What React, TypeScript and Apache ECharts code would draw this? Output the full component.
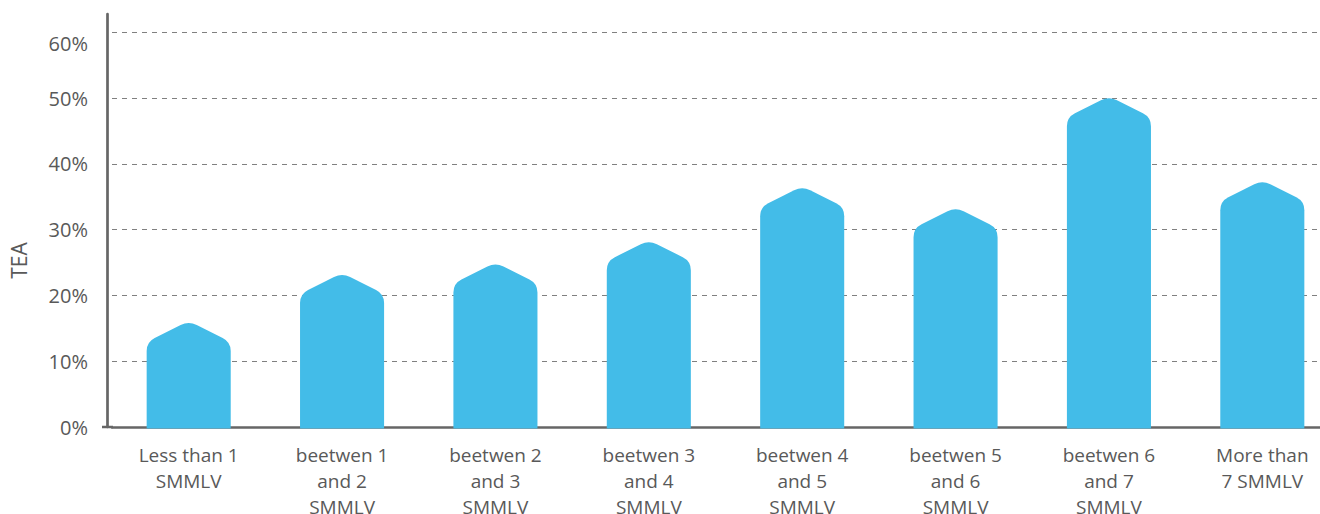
import React, { useEffect, useRef } from "react";
import * as echarts from "echarts";

const categories = [
  "Less than 1\nSMMLV",
  "beetwen 1\nand 2\nSMMLV",
  "beetwen 2\nand 3\nSMMLV",
  "beetwen 3\nand 4\nSMMLV",
  "beetwen 4\nand 5\nSMMLV",
  "beetwen 5\nand 6\nSMMLV",
  "beetwen 6\nand 7\nSMMLV",
  "More than\n7 SMMLV",
];

// TEA (%) per income bracket
const teaValues = [15.8, 23.1, 24.7, 28.1, 36.3, 33.1, 50.0, 37.2];

const BAR_COLOR = "#43BCE8";
const TEXT_COLOR = "#595959";
const FONT = "'Open Sans', 'Noto Sans', sans-serif";

// House-shaped bar: square base, pitched roof with rounded corners.
// The rounded apex passes exactly through yTop.
function housePath(x0: number, x1: number, yTop: number, yBase: number, roof: number, r: number) {
  const cx = (x0 + x1) / 2;
  const half = (x1 - x0) / 2;
  const len = Math.sqrt(half * half + roof * roof);
  const ux = half / len;
  const uy = roof / len;
  const yA = yTop - (r * uy) / 2; // sharp apex, above the rounded curve
  const ys = yA + roof;
  const p: string[] = [];
  p.push(`M${x0},${yBase}`);
  p.push(`L${x0},${ys + r}`);
  p.push(`Q${x0},${ys} ${x0 + r * ux},${ys - r * uy}`);
  p.push(`L${cx - r * ux},${yA + r * uy}`);
  p.push(`Q${cx},${yA} ${cx + r * ux},${yA + r * uy}`);
  p.push(`L${x1 - r * ux},${ys - r * uy}`);
  p.push(`Q${x1},${ys} ${x1},${ys + r}`);
  p.push(`L${x1},${yBase}`);
  p.push("Z");
  return p.join(" ");
}

export default function App() {
  const ref = useRef<HTMLDivElement>(null);

  useEffect(() => {
    if (!ref.current) return;
    const chart = echarts.init(ref.current, undefined, { renderer: "svg" });
    const gridLeft = 112;
    const gridTop = 14;
    const gridBottom = 87;

    chart.setOption({
      animation: false,
      backgroundColor: "#ffffff",
      grid: {
        left: gridLeft,
        width: 1227,
        top: gridTop,
        bottom: gridBottom,
        containLabel: false,
        outerBoundsMode: "none",
      },
      xAxis: {
        type: "category",
        data: categories,
        axisLine: { show: true, lineStyle: { color: "#666666", width: 2.5 } },
        axisTick: { show: false },
        axisLabel: {
          interval: 0,
          color: TEXT_COLOR,
          fontFamily: FONT,
          fontSize: 19,
          lineHeight: 26,
          margin: 15,
        },
      },
      yAxis: {
        type: "value",
        min: 0,
        max: 62.8,
        interval: 10,
        offset: 5,
        name: "TEA",
        nameLocation: "middle",
        nameRotate: 90,
        nameGap: 78,
        nameTextStyle: {
          color: TEXT_COLOR,
          fontFamily: FONT,
          fontSize: 21,
          padding: [0, 80, 0, 0],
        },
        axisLine: { show: true, lineStyle: { color: "#666666", width: 2.7 } },
        axisTick: { show: false },
        splitLine: {
          show: true,
          showMaxLine: false,
          lineStyle: { color: "#808080", width: 1.2, type: [5, 5] },
        },
        axisLabel: {
          margin: 19,
          showMaxLabel: false,
          color: TEXT_COLOR,
          fontFamily: FONT,
          fontSize: 20,
          formatter: (v: number) => (v === 60 ? `{t|${v}%}` : `{n|${v}%}`),
          rich: {
            t: { color: TEXT_COLOR, fontFamily: FONT, fontSize: 20, padding: [22, 0, 0, 0] },
            n: { color: TEXT_COLOR, fontFamily: FONT, fontSize: 20 },
          },
        },
      },
      graphic: [
        {
          type: "line",
          shape: { x1: 102, y1: 514 - gridBottom, x2: gridLeft + 1, y2: 514 - gridBottom },
          style: { stroke: "#666666", lineWidth: 2.5 },
          z: 5,
        },
      ],
      series: [
        {
          type: "custom",
          data: teaValues.map((v, i) => [i, v]),
          z: 10,
          renderItem: (params: any, api: any) => {
            const idx = api.value(0);
            const val = api.value(1);
            const top = api.coord([idx, val]);
            const base = api.coord([idx, 0]);
            const band = api.size([1, 0])[0];
            const w = band * 0.548;
            const x0 = top[0] - w / 2;
            const x1 = top[0] + w / 2;
            return {
              type: "path",
              shape: { pathData: housePath(x0, x1, top[1], base[1] + 1.5, 21, 9) },
              style: { fill: BAR_COLOR },
            };
          },
        },
      ],
    });

    return () => chart.dispose();
  }, []);

  return (
    <div
      ref={ref}
      style={{ position: "absolute", left: 0, top: 0, width: 1320, height: 514, overflow: "hidden" }}
    />
  );
}
